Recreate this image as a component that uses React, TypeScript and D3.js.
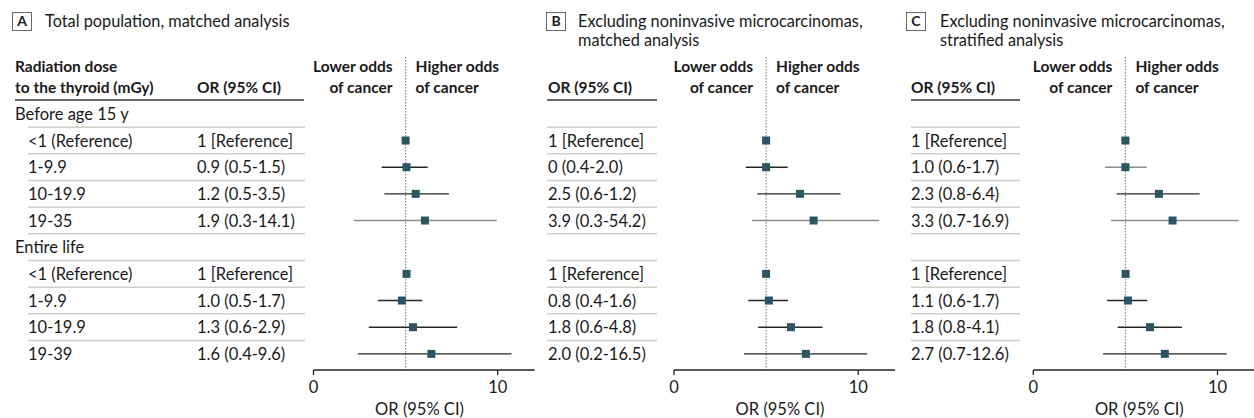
import React from "react";
import * as d3 from "d3";

// ---------- data ----------
const rowLabels = [
  "Before age 15 y",
  "<1 (Reference)",
  "1-9.9",
  "10-19.9",
  "19-35",
  "Entire life",
  "<1 (Reference)",
  "1-9.9",
  "10-19.9",
  "19-39",
];
const rowIsGroup = [true, false, false, false, false, true, false, false, false, false];

const panelLetters = ["A", "B", "C"];
const panelTitles = [
  ["Total population, matched analysis"],
  ["Excluding noninvasive microcarcinomas,", "matched analysis"],
  ["Excluding noninvasive microcarcinomas,", "stratified analysis"],
];

const orTextA = ["", "1 [Reference]", "0.9 (0.5-1.5)", "1.2 (0.5-3.5)", "1.9 (0.3-14.1)", "", "1 [Reference]", "1.0 (0.5-1.7)", "1.3 (0.6-2.9)", "1.6 (0.4-9.6)"];
const orTextB = ["", "1 [Reference]", "0 (0.4-2.0)", "2.5 (0.6-1.2)", "3.9 (0.3-54.2)", "", "1 [Reference]", "0.8 (0.4-1.6)", "1.8 (0.6-4.8)", "2.0 (0.2-16.5)"];
const orTextC = ["", "1 [Reference]", "1.0 (0.6-1.7)", "2.3 (0.8-6.4)", "3.3 (0.7-16.9)", "", "1 [Reference]", "1.1 (0.6-1.7)", "1.8 (0.8-4.1)", "2.7 (0.7-12.6)"];

// plotted positions (as drawn on the 0–12 axis)
const estA = [null, 5.0, 5.05, 5.55, 6.05, null, 5.05, 4.8, 5.4, 6.4];
const lowA = [null, null, 3.7, 3.85, 2.2, null, null, 3.5, 3.0, 2.4];
const highA = [null, null, 6.2, 7.35, 9.95, null, null, 5.9, 7.8, 10.75];

const estB = [null, 5.0, 5.0, 6.84, 7.58, null, 5.0, 5.15, 6.35, 7.16];
const lowB = [null, null, 3.9, 4.52, 4.23, null, null, 4.03, 4.57, 3.8];
const highB = [null, null, 6.17, 9.04, 11.14, null, null, 6.19, 8.06, 10.49];

const estC = [null, 5.0, 5.0, 6.82, 7.56, null, 5.01, 5.14, 6.34, 7.14];
const lowC = [null, null, 3.89, 4.52, 4.22, null, null, 4.0, 4.58, 3.79];
const highC = [null, null, 6.15, 9.03, 11.14, null, null, 6.19, 8.07, 10.5];

// whether a CI line is drawn in the lighter tone
const lightCiA = [false, false, false, false, true, false, false, false, false, false];
const lightCiB = [false, false, false, false, true, false, false, false, false, false];
const lightCiC = [false, false, true, false, true, false, false, false, false, false];

const axisDomain = [0, 12];
const axisTicks = [0, 10];
const referenceValue = 5;
const axisTitle = "OR (95% CI)";

const panels = [
  { or: orTextA, est: estA, lo: lowA, hi: highA, light: lightCiA },
  { or: orTextB, est: estB, lo: lowB, hi: highB, light: lightCiB },
  { or: orTextC, est: estC, lo: lowC, hi: highC, light: lightCiC },
];

// ---------- layout ----------
const W = 1254;
const H = 418;
const FONT = "Lato, 'Open Sans', sans-serif";
const TEXT = "#1a1a1a";
const SQUARE = "#2c5563";
const RULE = "#cfcfc6";
const BODY = 16.5;
const BOLD = 15.5;

const layout = [
  { box: 12.5, titleX: 45, orX: 197, ruleL: 28, ruleR: 305, headL: 15, headR: 304, ax0: 313.5 },
  { box: 546.5, titleX: 578, orX: 548, ruleL: 547, ruleR: 657, headL: 547, headR: 657, ax0: 674 },
  { box: 906.5, titleX: 940, orX: 911, ruleL: 911, ruleR: 1020, headL: 911, headR: 1020, ax0: 1033.3 },
];

const tableTop = 100.5;
const rowH = 26.67;
const axisY = 370;
const pxPerUnit = 18.42;

export default function App() {
  const y = d3
    .scaleBand<number>()
    .domain(d3.range(rowLabels.length))
    .range([tableTop, tableTop + rowH * rowLabels.length]);

  return (
    <svg
      width={W}
      height={H}
      style={{ position: "absolute", left: 0, top: 0, background: "#fff" }}
      fontFamily={FONT}
    >
      {/* left label column */}
      <text x={15} y={67} dy="0.35em" fontSize={BOLD} fontWeight={700} fill={TEXT}>
        Radiation dose
      </text>
      <text x={15} y={88} dy="0.35em" fontSize={BOLD} fontWeight={700} fill={TEXT}>
        to the thyroid (mGy)
      </text>
      {rowLabels.map((lab, i) => (
        <text
          key={"lab" + i}
          x={rowIsGroup[i] ? 15 : 28}
          y={(y(i) as number) + rowH / 2 + 0.5}
          dy="0.35em"
          fontSize={BODY}
          fill={TEXT}
        >
          {lab}
        </text>
      ))}

      {panels.map((p, pi) => {
        const L = layout[pi];
        const x = d3
          .scaleLinear()
          .domain(axisDomain)
          .range([L.ax0, L.ax0 + pxPerUnit * (axisDomain[1] - axisDomain[0])]);
        const xr = x(referenceValue);
        return (
          <g key={"p" + pi}>
            {/* title */}
            <rect x={L.box} y={12.5} width={19} height={18} fill="#fff" stroke="#6a6a6a" strokeWidth={1} />
            <text x={L.box + 9.5} y={21.5} dy="0.35em" textAnchor="middle" fontSize={14} fontWeight={700} fill={TEXT}>
              {panelLetters[pi]}
            </text>
            {panelTitles[pi].map((t, ti) => (
              <text key={ti} x={L.titleX} y={21.5 + ti * 18.5} dy="0.35em" fontSize={16.3} fill={TEXT}>
                {t}
              </text>
            ))}

            {/* header */}
            <text x={L.orX} y={88} dy="0.35em" fontSize={BOLD} fontWeight={700} fill={TEXT}>
              OR (95% CI)
            </text>
            <line x1={L.headL} x2={L.headR} y1={100} y2={100} stroke="#333" strokeWidth={1.5} />
            <text x={xr - 13} y={67} dy="0.35em" textAnchor="end" fontSize={BOLD} fontWeight={700} fill={TEXT}>
              Lower odds
            </text>
            <text x={xr - 13} y={88} dy="0.35em" textAnchor="end" fontSize={BOLD} fontWeight={700} fill={TEXT}>
              of cancer
            </text>
            <text x={xr + 10} y={67} dy="0.35em" fontSize={BOLD} fontWeight={700} fill={TEXT}>
              Higher odds
            </text>
            <text x={xr + 10} y={88} dy="0.35em" fontSize={BOLD} fontWeight={700} fill={TEXT}>
              of cancer
            </text>

            {/* row rules */}
            {rowLabels.slice(0, -1).map((_, i) => (
              <line
                key={"r" + i}
                x1={L.ruleL}
                x2={L.ruleR}
                y1={(y(i) as number) + rowH}
                y2={(y(i) as number) + rowH}
                stroke={RULE}
                strokeWidth={1.5}
              />
            ))}

            {/* OR text */}
            {p.or.map((t, i) => (
              <text key={"o" + i} x={L.orX} y={(y(i) as number) + rowH / 2 + 0.5} dy="0.35em" fontSize={BODY} fill={TEXT}>
                {t}
              </text>
            ))}

            {/* reference line */}
            <line x1={xr} x2={xr} y1={57} y2={axisY} stroke="#777" strokeWidth={1} strokeDasharray="1.5,1.5" />

            {/* CIs and estimates */}
            {p.est.map((e, i) => {
              if (e == null) return null;
              const cy = (y(i) as number) + rowH / 2;
              const lo = p.lo[i];
              const hi = p.hi[i];
              return (
                <g key={"m" + i}>
                  {lo != null && hi != null && (
                    <line
                      x1={x(lo)}
                      x2={x(hi)}
                      y1={cy}
                      y2={cy}
                      stroke={p.light[i] ? "#8c8c8c" : "#262626"}
                      strokeWidth={1.4}
                    />
                  )}
                  <rect x={x(e) - 4} y={cy - 4} width={8} height={8} fill={SQUARE} />
                </g>
              );
            })}

            {/* axis */}
            <line x1={x(axisDomain[0])} x2={x(axisDomain[1])} y1={axisY} y2={axisY} stroke="#222" strokeWidth={1.3} />
            {axisTicks.map((t) => (
              <g key={"t" + t}>
                <line x1={x(t)} x2={x(t)} y1={axisY} y2={axisY + 5} stroke="#222" strokeWidth={1.3} />
                <text x={x(t)} y={387} dy="0.35em" textAnchor="middle" fontSize={BODY} fill={TEXT}>
                  {t}
                </text>
              </g>
            ))}
            <text x={(x(axisDomain[0]) + x(axisDomain[1])) / 2 - 4.5} y={409} dy="0.35em" textAnchor="middle" fontSize={BODY} fill={TEXT}>
              {axisTitle}
            </text>
          </g>
        );
      })}
    </svg>
  );
}
